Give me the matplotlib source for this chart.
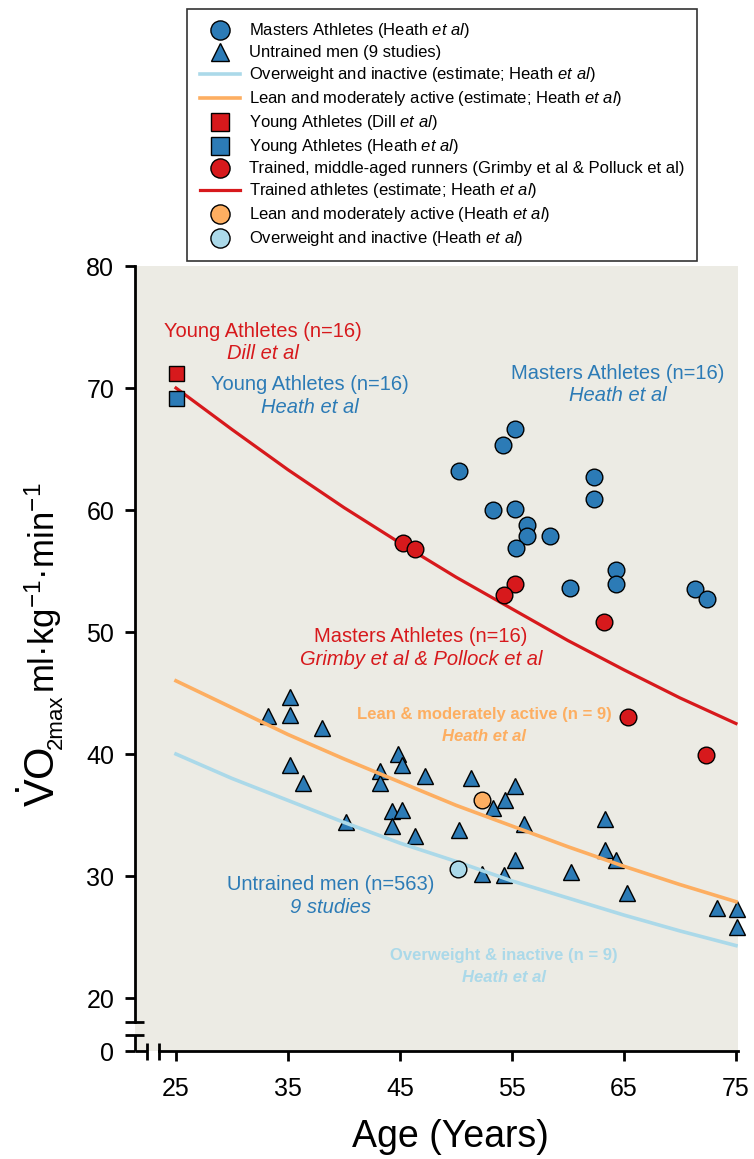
import matplotlib
matplotlib.use('Agg')
import matplotlib.pyplot as plt

plt.rcParams['font.family'] = ['Liberation Sans', 'DejaVu Sans']
plt.rcParams['mathtext.fontset'] = 'custom'
plt.rcParams['mathtext.rm'] = 'Liberation Sans'
plt.rcParams['mathtext.it'] = 'Liberation Sans:italic'
plt.rcParams['mathtext.bf'] = 'Liberation Sans:bold'

# colours (RdYlBu style)
RED = '#D7191C'
ORANGE = '#FDAE61'
LIGHTBLUE = '#ABD9E9'
BLUE = '#2C7BB6'

# ---- data ----
masters_heath_age = [55.3, 54.2, 50.3, 62.3, 62.3, 53.3, 55.3, 56.3, 56.3, 58.4, 55.4, 64.3, 64.3, 60.2, 71.3, 72.4]
masters_heath_vo2 = [66.6, 65.3, 63.2, 62.7, 60.9, 60.0, 60.1, 58.8, 57.9, 57.9, 56.9, 55.1, 53.9, 53.6, 53.5, 52.7]

runners_age = [45.3, 46.3, 55.3, 54.3, 63.2, 65.4, 72.3]
runners_vo2 = [57.3, 56.8, 53.9, 53.0, 50.8, 43.0, 39.9]

untrained_age = [35.2, 35.2, 33.2, 38.0, 35.2, 36.3, 44.8, 45.2, 43.2, 43.2, 47.2, 51.3, 44.3,
                 45.2, 44.3, 46.3, 40.2, 50.3, 52.3, 55.3, 54.4, 53.3, 56.1, 63.3, 63.3, 64.3,
                 55.3, 54.3, 60.3, 65.3, 73.3, 75.1, 75.1]
untrained_vo2 = [44.7, 43.2, 43.1, 42.1, 39.1, 37.6, 40.0, 39.1, 38.6, 37.6, 38.2, 38.0, 35.3,
                 35.4, 34.1, 33.3, 34.4, 33.8, 30.2, 37.4, 36.2, 35.6, 34.3, 34.7, 32.1, 31.3,
                 31.3, 30.1, 30.3, 28.6, 27.4, 27.3, 25.8]

young_dill_age, young_dill_vo2 = [25.0], [71.2]
young_heath_age, young_heath_vo2 = [25.0], [69.2]
lean_age, lean_vo2 = [52.3], [36.2]
overweight_age, overweight_vo2 = [50.2], [30.55]

# estimate curves (read every 5 years)
curve_age = [25, 30, 35, 40, 45, 50, 55, 60, 65, 70, 75]
trained_curve = [70.0, 66.6, 63.3, 60.2, 57.3, 54.5, 51.9, 49.3, 46.9, 44.6, 42.5]
lean_curve = [46.0, 43.8, 41.6, 39.6, 37.7, 35.8, 34.1, 32.4, 30.8, 29.3, 27.9]
overweight_curve = [40.0, 38.0, 36.2, 34.4, 32.7, 31.2, 29.6, 28.2, 26.8, 25.5, 24.3]

xticks = [25, 35, 45, 55, 65, 75]
zero_pos = 15.66   # where the "0" sits below the axis break
ytick_pos = [zero_pos, 20, 30, 40, 50, 60, 70, 80]
ytick_labels = ['0', '20', '30', '40', '50', '60', '70', '80']

fig = plt.figure(figsize=(7.54, 11.59), dpi=100)
ax = fig.add_axes([0.17905, 0.09318, 0.79973, 0.67731])
ax.set_facecolor('#ECEBE4')
xmin, xmax = 21.34, 75.18
ax.set_xlim(xmin, xmax)
ax.set_ylim(zero_pos, 80)

mk = dict(markeredgecolor='black', markeredgewidth=1.0, linestyle='none', clip_on=False)

h_tri, = ax.plot(untrained_age, untrained_vo2, marker='^', ms=11.5, color=BLUE, zorder=3, **mk)
h_ow_line, = ax.plot(curve_age, overweight_curve, color=LIGHTBLUE, lw=2.6, zorder=4)
h_lean_line, = ax.plot(curve_age, lean_curve, color=ORANGE, lw=2.6, zorder=4)
h_tr_line, = ax.plot(curve_age, trained_curve, color=RED, lw=2.3, zorder=4)
h_mast, = ax.plot(masters_heath_age, masters_heath_vo2, marker='o', ms=12, color=BLUE, zorder=5, **mk)
h_run, = ax.plot(runners_age, runners_vo2, marker='o', ms=12, color=RED, zorder=5, **mk)
h_dill, = ax.plot(young_dill_age, young_dill_vo2, marker='s', ms=10.8, color=RED, zorder=5, **mk)
h_yh, = ax.plot(young_heath_age, young_heath_vo2, marker='s', ms=10.8, color=BLUE, zorder=5, **mk)
h_lean, = ax.plot(lean_age, lean_vo2, marker='o', ms=12, color=ORANGE, zorder=5, **mk)
h_ow, = ax.plot(overweight_age, overweight_vo2, marker='o', ms=12, color=LIGHTBLUE, zorder=5, **mk)

# axes, ticks and breaks
for s in ['top', 'right']:
    ax.spines[s].set_visible(False)
for s in ['left', 'bottom']:
    ax.spines[s].set_linewidth(2.0)
ax.spines['left'].set_bounds(18.0, 80)
ax.spines['bottom'].set_bounds(23.45, xmax)
brk = dict(color='black', lw=2.0, clip_on=False, solid_capstyle='butt', zorder=6)
ax.plot([xmin, xmin], [zero_pos, 17.0], **brk)
ax.plot([xmin, 22.37], [zero_pos, zero_pos], **brk)
ax.plot([20.45, 22.14], [18.0, 18.0], **brk)
ax.plot([20.45, 22.14], [17.0, 17.0], **brk)
ax.plot([22.37, 22.37], [16.32, 14.92], **brk)
ax.plot([23.45, 23.45], [16.32, 14.92], **brk)

ax.set_xticks(xticks)
ax.set_yticks(ytick_pos)
ax.set_yticklabels(ytick_labels)
ax.tick_params(direction='out', length=7, width=2.0, labelsize=18)
ax.tick_params(axis='y', pad=8)
ax.tick_params(axis='x', pad=12)

# annotations
def label(x, y, top, bottom, color, size=14.5, weight='normal'):
    ax.text(x, y, top, color=color, fontsize=size, ha='center', va='center', fontweight=weight)
    ax.text(x, y - 1.85, bottom, color=color, fontsize=size, ha='center', va='center',
            fontweight=weight, fontstyle='italic')

label(32.77, 74.67, 'Young Athletes (n=16)', 'Dill et al', RED)
label(36.96, 70.25, 'Young Athletes (n=16)', 'Heath et al', BLUE)
label(64.46, 71.23, 'Masters Athletes (n=16)', 'Heath et al', BLUE)
label(46.88, 49.62, 'Masters Athletes (n=16)', 'Grimby et al & Pollock et al', RED)
label(52.5, 43.28, 'Lean & moderately active (n = 9)', 'Heath et al', ORANGE, size=12, weight='bold')
label(38.84, 29.3, 'Untrained men (n=563)', '9 studies', BLUE)
label(54.29, 23.52, 'Overweight & inactive (n = 9)', 'Heath et al', LIGHTBLUE, size=12, weight='bold')

# axis labels
W, H = 754.0, 1159.0
fig.text(450 / W, 1 - 1137 / H, 'Age (Years)', fontsize=27, ha='center', va='center')
fig.text(55 / W, 1 - 807 / H, r'$\dot{\mathrm{V}}$O', fontsize=30, rotation=90,
         rotation_mode='anchor', ha='left', va='baseline')
fig.text(62 / W, 1 - 749 / H, '2max', fontsize=16, rotation=90,
         rotation_mode='anchor', ha='left', va='baseline')
fig.text(55 / W, 1 - 693 / H, r'ml·kg$^{-1}$·min$^{-1}$', fontsize=25, rotation=90,
         rotation_mode='anchor', ha='left', va='baseline')

# legend
handles = [h_mast, h_tri, h_ow_line, h_lean_line, h_dill, h_yh, h_run, h_tr_line, h_lean, h_ow]
labels = [r'Masters Athletes (Heath $\mathit{et\ al}$)',
          'Untrained men (9 studies)',
          r'Overweight and inactive (estimate; Heath $\mathit{et\ al}$)',
          r'Lean and moderately active (estimate; Heath $\mathit{et\ al}$)',
          r'Young Athletes (Dill $\mathit{et\ al}$)',
          r'Young Athletes (Heath $\mathit{et\ al}$)',
          'Trained, middle-aged runners (Grimby et al & Polluck et al)',
          r'Trained athletes (estimate; Heath $\mathit{et\ al}$)',
          r'Lean and moderately active (Heath $\mathit{et\ al}$)',
          r'Overweight and inactive (Heath $\mathit{et\ al}$)']
leg = fig.legend(handles, labels, loc='upper left', bbox_to_anchor=(187 / W, 1 - 9 / H),
                 fontsize=12, frameon=True, fancybox=False, edgecolor='black',
                 handlelength=2.4, handletextpad=0.55, labelspacing=0.3,
                 borderpad=0.75, markerscale=1.15, borderaxespad=0)
leg.get_frame().set_linewidth(1.2)

fig.savefig('out.png', dpi=100, facecolor='white')
